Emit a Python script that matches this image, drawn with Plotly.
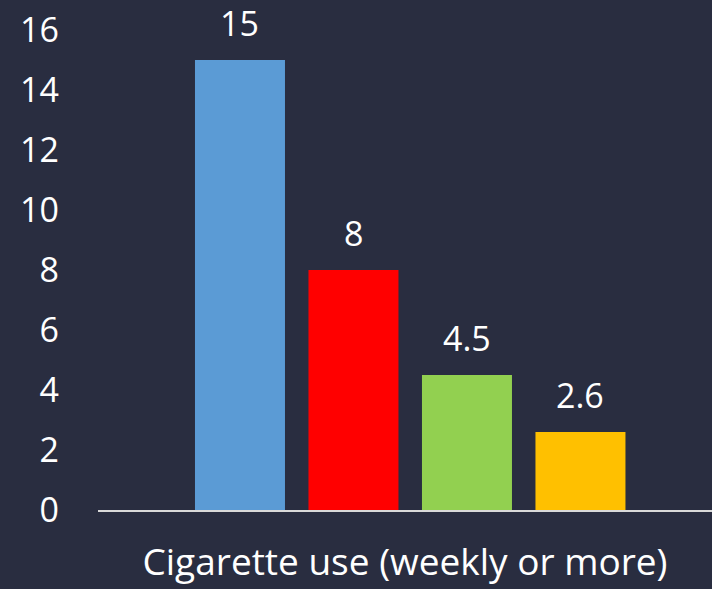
import plotly.graph_objects as go

# data
groups = ['Group A', 'Group B', 'Group C', 'Group D']
values = [15, 8, 4.5, 2.6]
value_labels = ['15', '8', '4.5', '2.6']
bar_colors = ['#5B9BD5', '#FF0000', '#92D050', '#FFC000']
y_ticks = [0, 2, 4, 6, 8, 10, 12, 14, 16]
category_label = 'Cigarette use (weekly or more)'

bg = '#292d40'
font_family = 'Open Sans'

fig = go.Figure()
fig.add_trace(go.Bar(x=groups, y=values, marker_color=bar_colors,
                     marker_line_width=0, showlegend=False, hoverinfo='skip'))

# value labels above each bar
for g, v, t in zip(groups, values, value_labels):
    fig.add_annotation(x=g, y=v, text=t, showarrow=False, yanchor='middle',
                       yshift=37, font=dict(size=34, color='white', family=font_family))

fig.update_layout(
    width=712, height=589,
    paper_bgcolor=bg, plot_bgcolor=bg,
    margin=dict(l=98, r=0, t=30, b=79),
    bargap=0.207,
    font=dict(family=font_family, color='white'),
)
fig.update_xaxes(type='category', range=[-1.251, 4.159],
                 showticklabels=False, ticks='', showgrid=False,
                 showline=True, linecolor='#d9d9d9', linewidth=2,
                 title=dict(text=category_label, standoff=38,
                            font=dict(size=37, color='white', family=font_family)))
fig.update_yaxes(range=[0, 16], tickvals=y_ticks, showgrid=False, zeroline=False,
                 showline=False, ticks='', ticklabelstandoff=38,
                 tickfont=dict(size=34, color='white', family=font_family))

# drop the default page margin so the figure sits at the window corner
fig.write_html("out.html", config={'displayModeBar': False},
               post_script="document.body.style.margin='0';")
